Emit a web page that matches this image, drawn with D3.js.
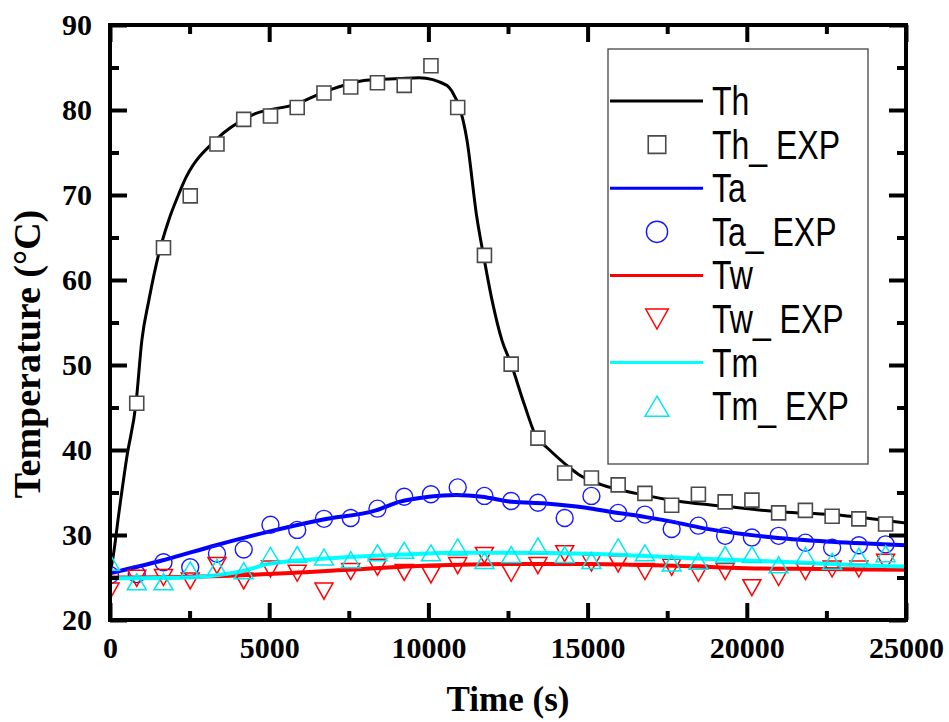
<!DOCTYPE html>
<html>
<head>
<meta charset="utf-8">
<script src="https://cdn.jsdelivr.net/npm/d3@7/dist/d3.min.js"></script>
<style>
  html, body { margin: 0; padding: 0; background: #fff; }
  svg { display: block; }
</style>
</head>
<body>
<svg id="chart" width="949" height="722"></svg>
<script>
// Sampling times of the measured series (s)
const expTime = [0, 840, 1680, 2520, 3360, 4200, 5040, 5880, 6720, 7560, 8400, 9240, 10080, 10920,
  11760, 12600, 13440, 14280, 15120, 15960, 16800, 17640, 18480, 19320, 20160, 21000, 21840,
  22680, 23520, 24360];

// Measured temperatures (°C)
const thExp = [null, 45.5, 63.8, 69.9, 76.0, 78.9, 79.3, 80.3, 82.0, 82.7, 83.2, 82.9, 85.2, 80.3,
  62.9, 50.1, 41.4, 37.3, 36.7, 35.9, 34.9, 33.5, 34.8, 33.9, 34.1, 32.6, 32.9, 32.2, 31.9, 31.3];
const taExp = [25.3, 25.4, 26.8, 26.2, 27.8, 28.3, 31.2, 30.6, 31.9, 32.0, 33.1, 34.5, 34.8, 35.6,
  34.6, 34.0, 33.8, 32.0, 34.6, 32.6, 32.4, 30.7, 31.1, 29.9, 29.7, 29.9, 29.1, 28.5, 28.8, 28.9];
const twExp = [23.4, 24.9, 25.0, 24.6, 26.4, 24.6, 26.0, 25.5, 23.4, 25.7, 26.2, 25.6, 25.3, 26.4,
  27.6, 25.5, 26.4, 27.8, 26.7, 26.6, 25.7, 26.2, 25.5, 25.7, 23.8, 25.0, 25.7, 26.0, 26.0, 26.8];
const tmExp = [26.8, 24.5, 24.5, 25.9, 26.2, 25.8, 27.6, 27.7, 27.4, 27.1, 27.9, 28.2, 27.9, 28.6,
  27.0, 27.7, 28.7, 27.7, 27.0, 28.6, 27.9, 26.7, 26.9, 27.7, 27.7, 26.5, 27.6, 26.9, 27.5, 27.8];

// Simulated curves: time (s) and temperature (°C)
const thTime = [0, 100, 280, 530, 820, 1000, 1220, 1540, 1850, 2170, 2280, 3330, 4460, 5840, 6780,
  8040, 9080, 9700, 10580, 10740, 11210, 11520, 11740, 12000, 12310, 12590, 13000, 13410, 13690,
  14410, 14730, 15450, 16520, 17960, 19530, 21100, 22670, 23740, 25000];
const thVal = [25.5, 27.5, 32.6, 39.2, 45.6, 52.9, 57.6, 63.2, 67.1, 70.2, 71.2, 76.5, 79.4, 80.7, 82.2,
  83.5, 83.7, 83.8, 82.9, 82.2, 76.5, 67.4, 62.7, 57.6, 52.9, 50.2, 45.5, 41.4, 40.4,
  38.0, 37.1, 35.9, 34.9, 33.9, 33.3, 32.7, 32.4, 32.0, 31.4];

const taTime = [0, 1630, 3330, 4990, 6660, 8350, 9080, 10020, 10860, 11680, 12620, 13690, 14950,
  15760, 16830, 17870, 18500, 20600, 22670, 25000];
const taVal = [25.5, 27.0, 28.8, 30.4, 31.8, 32.9, 33.9, 34.5, 34.7, 34.5, 33.9, 33.7, 33.2,
  32.7, 32.1, 31.4, 30.9, 29.8, 29.2, 28.8];

const twTime = [0, 2500, 5000, 7500, 10000, 12500, 15000, 17500, 20000, 22500, 25000];
const twVal = [25.0, 25.1, 25.4, 25.9, 26.4, 26.6, 26.6, 26.4, 26.1, 26.0, 25.9];

const tmTime = [0, 2500, 3400, 4200, 5000, 5900, 7500, 9200, 10800, 12500, 15000, 17500, 20000,
  22000, 23700, 25000];
const tmVal = [24.9, 25.0, 25.3, 25.8, 26.6, 27.0, 27.4, 27.7, 27.9, 27.9, 27.8, 27.4, 27.0,
  26.7, 26.4, 26.3];

// Axis ticks
const xMajor = [0, 5000, 10000, 15000, 20000, 25000];
const xMinor = [2500, 7500, 12500, 17500, 22500];
const yMajor = [20, 30, 40, 50, 60, 70, 80, 90];
const yMinor = [25, 35, 45, 55, 65, 75, 85];

const legendLabels = ["Th", "Th_ EXP", "Ta", "Ta_ EXP", "Tw", "Tw_ EXP", "Tm", "Tm_ EXP"];

const svg = d3.select("#chart");
const L = 110, R = 906, T = 25, B = 620;

const x = d3.scaleLinear().domain([0, 25000]).range([L, R]);
const y = d3.scaleLinear().domain([20, 90]).range([B, T]);

svg.append("defs").append("clipPath").attr("id", "plotClip")
  .append("rect").attr("x", L).attr("y", T).attr("width", R - L).attr("height", B - T);

const plot = svg.append("g").attr("clip-path", "url(#plotClip)");

const lineGen = d3.line()
  .x(d => x(d[0])).y(d => y(d[1]))
  .curve(d3.curveMonotoneX);

function pairs(ts, vs) { return ts.map((t, i) => [t, vs[i]]).filter(d => d[1] != null); }

// marker shapes
function squarePath(s) { const h = s / 2; return `M${-h},${-h}H${h}V${h}H${-h}Z`; }
function triUp(w, h) { return `M0,${-h / 2}L${w / 2},${h / 2}L${-w / 2},${h / 2}Z`; }
function triDown(w, h) { return `M0,${h / 2}L${w / 2},${-h / 2}L${-w / 2},${-h / 2}Z`; }

const series = [
  { name: "Th", line: pairs(thTime, thVal), pts: pairs(expTime, thExp), color: "#000000", lw: 3,
    marker: "square", mstroke: "#4a4a4a", fill: "#ffffff" },
  { name: "Ta", line: pairs(taTime, taVal), pts: pairs(expTime, taExp), color: "#0000ff", lw: 4,
    marker: "circle", mstroke: "#1818ff", fill: "none" },
  { name: "Tw", line: pairs(twTime, twVal), pts: pairs(expTime, twExp), color: "#ff0000", lw: 4,
    marker: "down", mstroke: "#ff0000", fill: "none" },
  { name: "Tm", line: pairs(tmTime, tmVal), pts: pairs(expTime, tmExp), color: "#00ffff", lw: 4,
    marker: "up", mstroke: "#00e8f0", fill: "none" }
];

function markerPath(kind, scale) {
  if (kind === "square") return squarePath(14 * scale);
  if (kind === "up") return triUp(19 * scale, 16 * scale);
  if (kind === "down") return triDown(18 * scale, 16 * scale);
  return null;
}

function drawMarker(g, s, cx, cy, scale) {
  if (s.marker === "circle") {
    g.append("circle").attr("cx", cx).attr("cy", cy).attr("r", 8.5 * scale)
      .attr("fill", s.fill).attr("stroke", s.mstroke).attr("stroke-width", 1.4);
  } else {
    g.append("path").attr("d", markerPath(s.marker, scale))
      .attr("transform", `translate(${cx},${cy})`)
      .attr("fill", s.fill).attr("stroke", s.mstroke)
      .attr("stroke-width", s.marker === "square" ? 1.6 : 1.5);
  }
}

series.forEach(s => {
  plot.append("path").datum(s.line)
    .attr("d", lineGen).attr("fill", "none")
    .attr("stroke", s.color).attr("stroke-width", s.lw).attr("stroke-linejoin", "round");
  const mg = plot.append("g");
  s.pts.forEach(d => drawMarker(mg, s, x(d[0]), y(d[1]), 1));
});

// axes: inward ticks on all four sides
const axisFont = "'Liberation Serif', 'Times New Roman', serif";
function styleAxis(g) {
  g.select(".domain").remove();
  g.selectAll(".tick line").attr("stroke", "#000").attr("stroke-width", 4);
  g.selectAll(".tick text").attr("font-family", axisFont).attr("font-weight", "bold")
    .attr("font-size", 30).attr("fill", "#000");
}

svg.append("g").attr("transform", `translate(0,${B})`)
  .call(d3.axisBottom(x).tickValues(xMajor).tickSize(-17).tickPadding(17).tickFormat(d3.format("d")))
  .call(styleAxis);
svg.append("g").attr("transform", `translate(0,${B})`)
  .call(d3.axisBottom(x).tickValues(xMinor).tickSize(-9).tickFormat(""))
  .call(styleAxis);
svg.append("g").attr("transform", `translate(0,${T})`)
  .call(d3.axisTop(x).tickValues(xMajor).tickSize(-17).tickFormat(""))
  .call(styleAxis);
svg.append("g").attr("transform", `translate(0,${T})`)
  .call(d3.axisTop(x).tickValues(xMinor).tickSize(-9).tickFormat(""))
  .call(styleAxis);

svg.append("g").attr("transform", `translate(${L},0)`)
  .call(d3.axisLeft(y).tickValues(yMajor).tickSize(-17).tickPadding(18).tickFormat(d3.format("d")))
  .call(styleAxis);
svg.append("g").attr("transform", `translate(${L},0)`)
  .call(d3.axisLeft(y).tickValues(yMinor).tickSize(-9).tickFormat(""))
  .call(styleAxis);
svg.append("g").attr("transform", `translate(${R},0)`)
  .call(d3.axisRight(y).tickValues(yMajor).tickSize(-17).tickFormat(""))
  .call(styleAxis);
svg.append("g").attr("transform", `translate(${R},0)`)
  .call(d3.axisRight(y).tickValues(yMinor).tickSize(-9).tickFormat(""))
  .call(styleAxis);

// frame
svg.append("rect").attr("x", L).attr("y", T).attr("width", R - L).attr("height", B - T)
  .attr("fill", "none").attr("stroke", "#000").attr("stroke-width", 4);

// axis titles
svg.append("text").attr("x", (L + R) / 2).attr("y", 711).attr("text-anchor", "middle")
  .attr("font-family", axisFont).attr("font-weight", "bold").attr("font-size", 35)
  .text("Time (s)");
svg.append("text").attr("transform", "translate(40,354) rotate(-90)").attr("text-anchor", "middle")
  .attr("font-family", axisFont).attr("font-weight", "bold").attr("font-size", 38)
  .text("Temperature (°C)");

// legend
const lg = svg.append("g");
lg.append("rect").attr("x", 608).attr("y", 49).attr("width", 260).attr("height", 415)
  .attr("fill", "#fff").attr("stroke", "#444").attr("stroke-width", 1.3);
legendLabels.forEach((lab, i) => {
  const ry = 101 + i * 43.6;
  const s = series[Math.floor(i / 2)];
  if (i % 2 === 0) {
    lg.append("line").attr("x1", 610).attr("x2", 703).attr("y1", ry).attr("y2", ry)
      .attr("stroke", s.color).attr("stroke-width", 3);
  } else {
    drawMarker(lg, s, 657, ry, 1.25);
  }
  lg.append("text").attr("transform", `translate(712,${ry + 14}) scale(0.8,1)`)
    .attr("font-family", "'Liberation Sans', Arial, sans-serif").attr("font-size", 40)
    .attr("fill", "#000").text(lab);
});
</script>
</body>
</html>
